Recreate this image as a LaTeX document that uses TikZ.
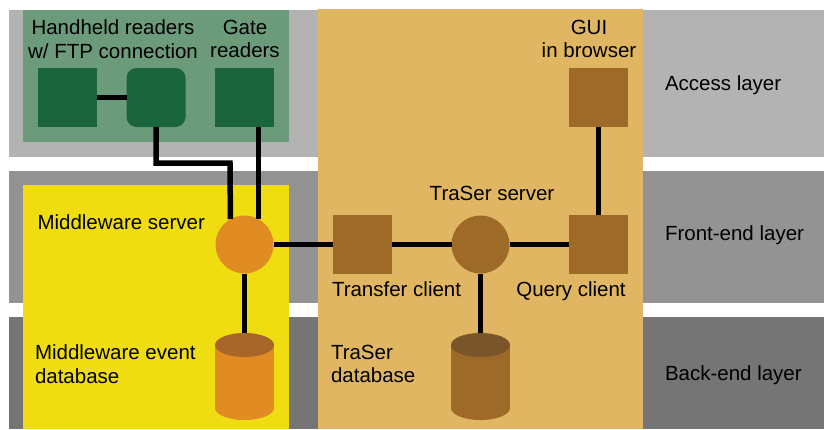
\documentclass[tikz,border=0pt]{standalone}
\usepackage{fontspec}
\setmainfont{Liberation Sans}
\definecolor{accessgray}{HTML}{B3B3B3}
\definecolor{frontgray}{HTML}{939393}
\definecolor{backgray}{HTML}{767575}
\definecolor{readergreen}{HTML}{6B9B7B}
\definecolor{devgreen}{HTML}{1B653D}
\definecolor{mwyellow}{HTML}{EFDD11}
\definecolor{trasertan}{HTML}{E0B662}
\definecolor{mworange}{HTML}{E18C22}
\definecolor{mwtop}{HTML}{A7652A}
\definecolor{traserbrown}{HTML}{9E6A28}
\definecolor{trasertop}{HTML}{795529}
\begin{document}
\begin{tikzpicture}[x=1pt,y=-1pt,
    every node/.style={font=\fontsize{20.5}{23.5}\selectfont, inner sep=0pt, outer sep=0pt},
    dev/.style={minimum size=59pt},
    srv/.style={circle, minimum size=58pt},
    dbbox/.style={minimum width=59pt, minimum height=87pt},
    link/.style={line width=5.5pt},
    lbl/.style={align=center}]
  \useasboundingbox (0,0) rectangle (824,429);
  % layers and groups
  \fill[accessgray] (9,10) rectangle (824,157);
  \fill[frontgray] (9,171) rectangle (824,303);
  \fill[backgray] (9,317) rectangle (824,429);
  \fill[readergreen] (23,10) rectangle (289,142);
  \fill[mwyellow] (23,185) rectangle (289,429);
  \fill[trasertan] (318,9) rectangle (643,429);
  \node[anchor=base west] (accesslbl) at (665,90.7) {Access layer};
  \node[anchor=base west] (frontlbl) at (665,240) {Front-end layer};
  \node[anchor=base west] (backlbl) at (665,380.7) {Back-end layer};
  % access layer
  \node[dev, fill=devgreen] (handheld) at (67.5,97.5) {};
  \node[dev, fill=devgreen, rounded corners=10pt] (ftp) at (156,97.5) {};
  \node[dev, fill=devgreen] (gate) at (244.5,97.5) {};
  \node[dev, fill=traserbrown] (gui) at (598.5,97.5) {};
  \node[lbl] (handheldlbl) at (113,39) {Handheld readers\\w/ FTP connection};
  \node[lbl] (gatelbl) at (245,39) {Gate\\readers};
  \node[lbl] (guilbl) at (589,39) {GUI\\in browser};
  % front-end layer
  \node[srv, fill=mworange] (mwserver) at (244.5,244.5) {};
  \node[dev, fill=traserbrown] (transfer) at (362.5,244.5) {};
  \node[srv, fill=traserbrown] (traser) at (480.5,244.5) {};
  \node[dev, fill=traserbrown] (query) at (598.5,244.5) {};
  \node[anchor=base west] (mwserverlbl) at (37.5,229.3) {Middleware server};
  \node (traserlbl) at (492,193) {TraSer server};
  \node[anchor=base west] (transferlbl) at (332,296) {Transfer client};
  \node[anchor=base] (querylbl) at (571,296) {Query client};
  % back-end layer
  \node[dbbox] (mwdb) at (244.5,376.5) {};
  \node[dbbox] (traserdb) at (480.5,376.5) {};
  \foreach \db/\bodycol/\capcol in {mwdb/mworange/mwtop, traserdb/traserbrown/trasertop} {
    \fill[\bodycol] ([yshift=-12pt]\db.north west) rectangle ([yshift=12pt]\db.south east);
    \fill[\bodycol] ([yshift=12pt]\db.south) ellipse [x radius=29.5, y radius=12];
    \fill[\capcol] ([yshift=-12pt]\db.north) ellipse [x radius=29.5, y radius=12];
  }
  \node[anchor=west, align=left] (mwdblbl) at (35,364) {Middleware event\\database};
  \node[anchor=west, align=left] (traserdblbl) at (331,364) {TraSer\\database};
  % connections
  \coordinate (ftpbend) at (230,163);
  \draw[link] (handheld) -- (ftp);
  \draw[link] (ftp.south) |- (ftpbend) -- (mwserver.119);
  \draw[link] (gate.south -| mwserver.61) -- (mwserver.61);
  \draw[link] (mwserver) -- (mwdb.north);
  \draw[link] (mwserver) -- (transfer);
  \draw[link] (transfer) -- (traser);
  \draw[link] (traser) -- (query);
  \draw[link] (query) -- (gui);
  \draw[link] (traser) -- (traserdb.north);
\end{tikzpicture}
\end{document}
